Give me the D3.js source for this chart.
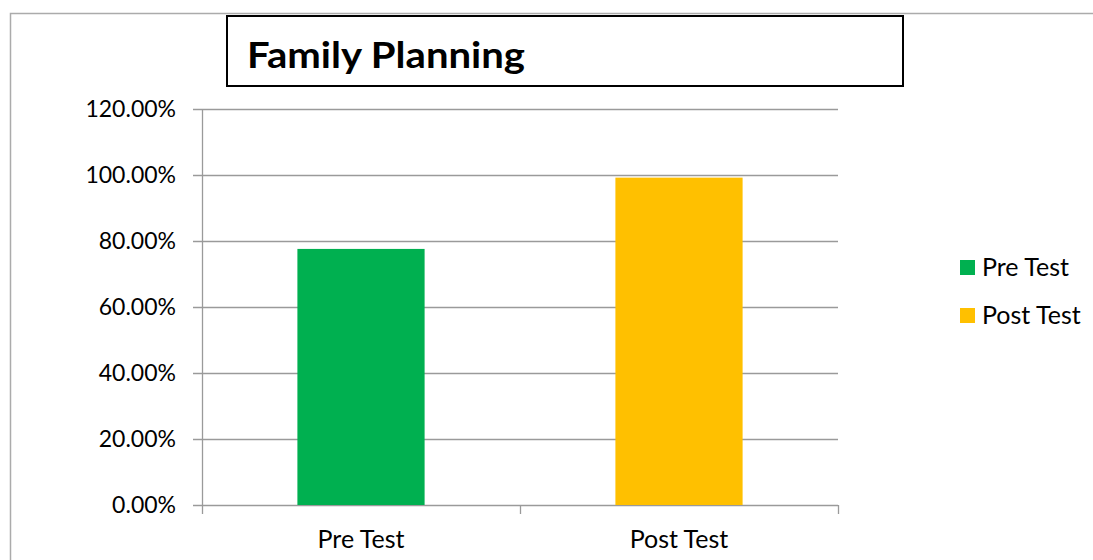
<!DOCTYPE html>
<html><head><meta charset="utf-8">
<script src="https://cdn.jsdelivr.net/npm/d3@7"></script>
<style>body{margin:0;background:#fff}svg{display:block}text{font-family:Lato,"Open Sans",sans-serif}</style>
</head><body>
<svg id="c" width="1093" height="560"></svg>
<script>
const title = "Family Planning";
const categories = ["Pre Test", "Post Test"];
const values = [0.776, 0.992];
const colors = ["#00B050", "#FFC000"];
const yTicks = [0, 0.2, 0.4, 0.6, 0.8, 1.0, 1.2];

const svg = d3.select("#c");
// outer chart border
svg.append("rect").attr("x",10.5).attr("y",13.5).attr("width",1100).attr("height",600)
  .attr("fill","none").attr("stroke","#ababab").attr("stroke-width",1.5);

const x = d3.scaleBand().domain(categories).range([202,838]).paddingInner(0.6).paddingOuter(0.3);
const y = d3.scaleLinear().domain([0,1.2]).range([505,109]);

// gridlines
svg.append("g").selectAll("line").data(yTicks).join("line")
  .attr("x1",193).attr("x2",838).attr("y1",d=>Math.round(y(d))+0.5).attr("y2",d=>Math.round(y(d))+0.5)
  .attr("stroke","#9a9a9a").attr("stroke-width",1.3);
// y axis line
svg.append("line").attr("x1",202.5).attr("x2",202.5).attr("y1",109).attr("y2",505)
  .attr("stroke","#9a9a9a").attr("stroke-width",1.3);
// y labels
const fmt = d3.format(".2%");
svg.append("g").selectAll("text").data(yTicks).join("text")
  .attr("x",176).attr("y",d=>y(d)+8).attr("text-anchor","end")
  .attr("font-size",23).attr("fill","#000").text(d=>fmt(d));

// x ticks
const step = x.step();
const xt = [202, 202+step*1, 202+step*2];
svg.append("g").selectAll("line").data(xt).join("line")
  .attr("x1",d=>Math.round(d)+0.5).attr("x2",d=>Math.round(d)+0.5).attr("y1",505).attr("y2",514)
  .attr("stroke","#9a9a9a").attr("stroke-width",1.3);

// bars
svg.append("g").selectAll("rect").data(categories).join("rect")
  .attr("x",d=>x(d)).attr("width",x.bandwidth())
  .attr("y",(d,i)=>y(values[i])).attr("height",(d,i)=>y(0)-y(values[i]))
  .attr("fill",(d,i)=>colors[i]);

// x labels
svg.append("g").selectAll("text").data(categories).join("text")
  .attr("x",d=>x(d)+x.bandwidth()/2).attr("y",548).attr("text-anchor","middle")
  .attr("font-size",25).attr("fill","#000").text(d=>d);

// title box
svg.append("rect").attr("x",227).attr("y",16).attr("width",676).attr("height",70)
  .attr("fill","#fff").attr("stroke","#000").attr("stroke-width",2);
svg.append("text").attr("x",247).attr("y",68).attr("font-size",37).attr("font-weight","bold")
  .attr("textLength",278).attr("lengthAdjust","spacingAndGlyphs")
  .attr("fill","#000").text(title);

// legend
const lg = svg.append("g").selectAll("g").data(categories).join("g")
  .attr("transform",(d,i)=>`translate(960,${260+i*48})`);
lg.append("rect").attr("width",15).attr("height",15).attr("fill",(d,i)=>colors[i]);
lg.append("text").attr("x",22).attr("y",15.5).attr("font-size",25).attr("fill","#000").text(d=>d);
</script>
</body></html>
